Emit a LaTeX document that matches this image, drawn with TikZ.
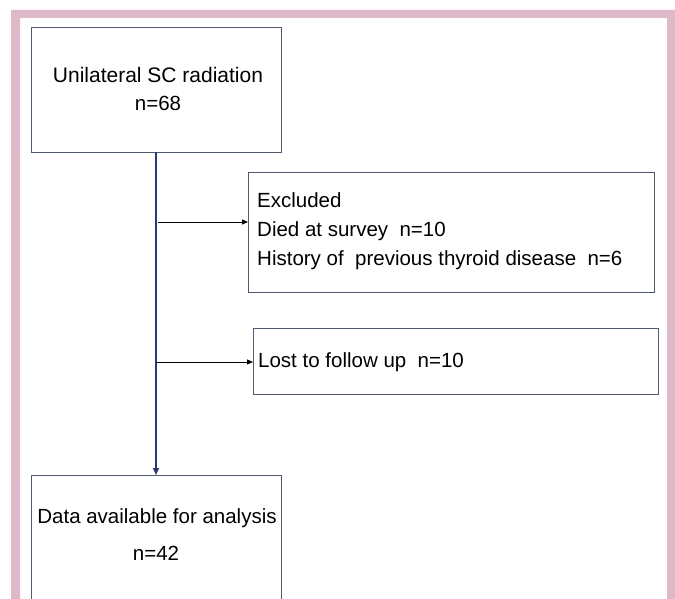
\documentclass[tikz,border=0pt]{standalone}
\usepackage{fontspec}
\setmainfont{Liberation Sans}
\usetikzlibrary{arrows.meta}
\definecolor{pinkframe}{HTML}{DDB9C9}
\definecolor{boxline}{HTML}{4F5A6E}
\definecolor{navy}{HTML}{2B3A6E}
\tikzset{
  box/.style={draw=boxline, line width=1pt, inner sep=0pt, fill=white},
  mainarrow/.style={draw=navy, line width=1.6pt, -{Triangle[length=7pt,width=6pt]}},
  sidearrow/.style={draw=black, line width=1pt, -{Triangle[length=6pt,width=5pt]}},
  txt/.style={font=\fontsize{20.5}{25}\selectfont, inner sep=0pt}
}
\begin{document}
\begin{tikzpicture}[x=1pt,y=1pt]
\clip (0,0) rectangle (675,-599);
\fill[white] (0,0) rectangle (675,-599);
\fill[pinkframe, even odd rule] (11,-10) rectangle (690,-620) (20,-18) rectangle (667,-620);
% boxes
\node[box, minimum width=250pt, minimum height=125pt, anchor=north west] (top) at (31,-27) {};
\node[box, minimum width=406pt, minimum height=120pt, anchor=north west] (excl) at (248,-172) {};
\node[box, minimum width=405pt, minimum height=66pt, anchor=north west] (lost) at (253,-328) {};
\node[box, minimum width=250pt, minimum height=160pt, anchor=north west] (data) at (31,-475) {};
% texts
\node[txt, font=\fontsize{21}{25}\selectfont] (t1) at (158,-75) {Unilateral SC radiation};
\node[txt] (t2) at (158,-103) {n=68};
\node[txt, anchor=west] (e1) at (257,-200) {Excluded};
\node[txt, anchor=west] (e2) at (257,-231) {Died at survey\ \ n=10};
\node[txt, anchor=west] (e3) at (257,-260) {History of\ \ previous thyroid disease\ \ n=6};
\node[txt, anchor=west] (l1) at (258,-362) {Lost to follow up\ \ n=10};
\node[txt] (d1) at (157,-518) {Data available for analysis};
\node[txt] (d2) at (156,-553) {n=42};
% connectors
\coordinate (s) at (156,-152);
\coordinate (j1) at (158,-222);
\coordinate (j2) at (156,-362);
\draw[mainarrow] (s) -- (s |- data.north);
\draw[sidearrow] (j1) -- (excl.west |- j1);
\draw[sidearrow] (j2) -- (lost.west |- j2);
\end{tikzpicture}
\end{document}
